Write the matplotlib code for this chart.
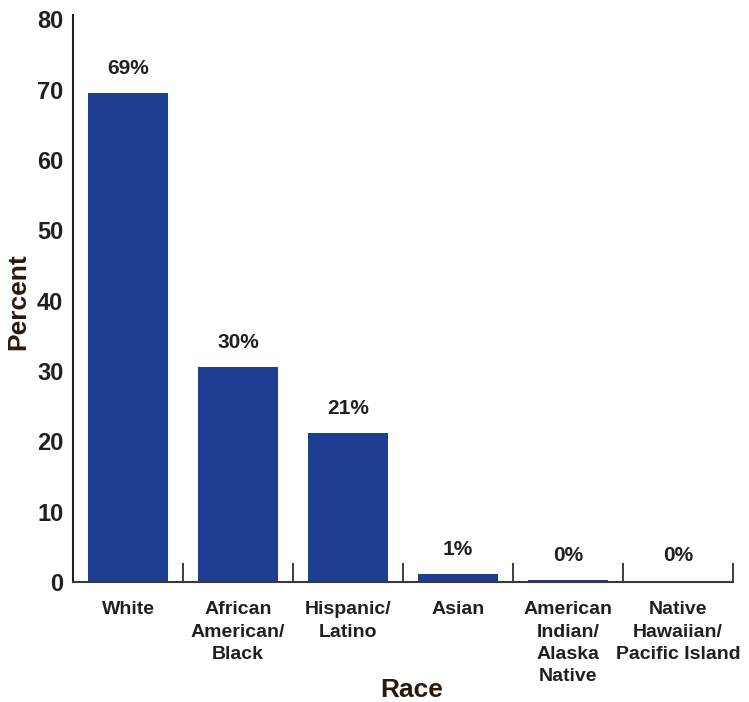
import numpy as np
import matplotlib.pyplot as plt
from matplotlib.ticker import FixedLocator

plt.rcParams['font.family'] = ['Liberation Sans', 'DejaVu Sans']

categories = ["White", "African\nAmerican/\nBlack", "Hispanic/\nLatino", "Asian",
              "American\nIndian/\nAlaska\nNative", "Native\nHawaiian/\nPacific Island"]
values = [69.5, 30.6, 21.2, 1.1, 0.3, 0.2]
labels = ["69%", "30%", "21%", "1%", "0%", "0%"]
yticks = [0, 10, 20, 30, 40, 50, 60, 70, 80]

text_col = "#231f20"
bar_col = "#1c3f94"

fig = plt.figure(figsize=(7.49, 7.02), dpi=100)
# axes: x from 73 to 733 px, y from 582 (zero) up to 15 px
ax = fig.add_axes([0.0975, 0.171, 0.881, 0.8077])

x = np.arange(len(categories))
ax.bar(x, values, width=0.73, color=bar_col)
for xi, v, lab in zip(x, values, labels):
    ax.text(xi, v + 3.5, lab, ha="center", va="center", fontsize=15,
            fontweight="bold", color=text_col)

ax.set_xlim(-0.5, len(categories) - 0.5)
ax.set_ylim(0, 80.6)
ax.set_yticks(yticks)
ax.set_yticklabels([str(t) for t in yticks], fontsize=17, fontweight="bold", color=text_col)
ax.tick_params(axis="y", length=0, pad=7)

ax.set_xticks(x)
ax.set_xticklabels(categories, fontsize=14, fontweight="bold", color=text_col,
                   linespacing=1.4, va="top")
ax.tick_params(axis="x", which="major", length=0, pad=14)
ax.xaxis.set_minor_locator(FixedLocator(np.append(x[1:] - 0.5, len(categories) - 0.5)))
ax.tick_params(axis="x", which="minor", direction="in", length=14, width=1.2, color=text_col)

for s in ["top", "right"]:
    ax.spines[s].set_visible(False)
ax.spines["left"].set_linewidth(1.5)
ax.spines["left"].set_color(text_col)
ax.spines["bottom"].set_linewidth(1.5)
ax.spines["bottom"].set_color("#3a3a3a")

fig.text(0.025, 0.57, "Percent", fontsize=19, fontweight="bold", color="#2a1a0c",
         ha="center", va="center", rotation=90)
fig.text(0.549, 0.017, "Race", fontsize=19, fontweight="bold", color="#2a1a0c",
         ha="center", va="center")

fig.savefig("out.png", dpi=100)
